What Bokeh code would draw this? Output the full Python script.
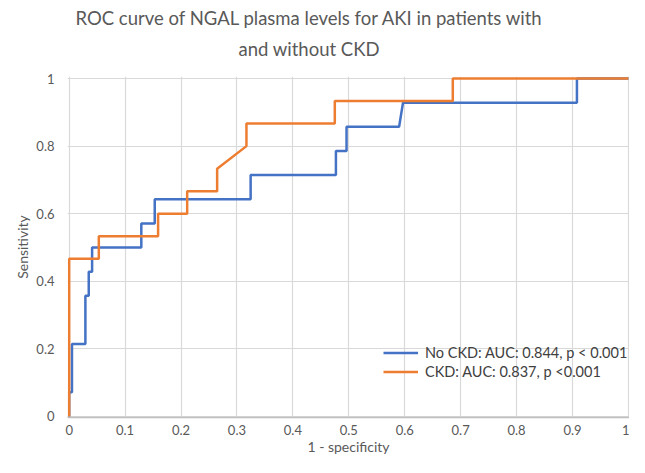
from bokeh.plotting import figure
from bokeh.models import Range1d, FixedTicker, Title, Legend, LegendItem
from bokeh.embed import file_html
from bokeh.resources import INLINE

# Data
no_ckd_fpr = [0.0, 0.0, 0.005, 0.005, 0.029, 0.029, 0.035, 0.035, 0.041, 0.041, 0.129, 0.129,
              0.153, 0.153, 0.3245, 0.3245, 0.477, 0.477, 0.496, 0.496, 0.59, 0.597, 0.908, 0.908, 1.0]
no_ckd_tpr = [0.0, 0.0714, 0.0714, 0.2143, 0.2143, 0.3571, 0.3571, 0.4286, 0.4286, 0.5, 0.5, 0.5714,
              0.5714, 0.6429, 0.6429, 0.7143, 0.7143, 0.7857, 0.7857, 0.8571, 0.8571, 0.9286, 0.9286, 1.0, 1.0]
ckd_fpr = [0.0, 0.0, 0.053, 0.053, 0.159, 0.159, 0.211, 0.211, 0.2646, 0.2646, 0.317, 0.317,
           0.475, 0.475, 0.686, 0.686, 1.0]
ckd_tpr = [0.0, 0.4667, 0.4667, 0.5333, 0.5333, 0.6, 0.6, 0.6667, 0.6667, 0.7333, 0.8, 0.8667,
           0.8667, 0.9333, 0.9333, 1.0, 1.0]
series_labels = ["No CKD: AUC: 0.844, p < 0.001", "CKD: AUC: 0.837, p <0.001"]
x_ticks = [0, 0.1, 0.2, 0.3, 0.4, 0.5, 0.6, 0.7, 0.8, 0.9, 1]
x_tick_labels = ["0", "0.1", "0.2", "0.3", "0.4", "0.5", "0.6", "0.7", "0.8", "0.9", "1"]
y_ticks = [0, 0.2, 0.4, 0.6, 0.8, 1]
y_tick_labels = ["0", "0.2", "0.4", "0.6", "0.8", "1"]
title_line1 = "ROC curve of NGAL plasma levels for AKI in patients with"
title_line2 = "and without CKD"

FONT = "Lato"
GREY = "#595959"

p = figure(width=629, height=457, output_backend="svg", toolbar_location=None,
           x_range=Range1d(-0.003, 1.002), y_range=Range1d(-0.003, 1.006))
p.min_border = 0
p.min_border_left = 0
p.min_border_right = 0
p.min_border_top = 0
p.min_border_bottom = 0
p.outline_line_color = None

# outer title line
p.title.text = title_line1
p.title.text_font = FONT
p.title.text_font_size = "18.5px"
p.title.text_font_style = "normal"
p.title.text_color = GREY
p.title.align = "left"
p.title.offset = 8
p.title.standoff = 9

# spacer between the title block and the plot area (innermost)
top_spacer = Title(text=" ", text_font_size="1px", standoff=12)
p.add_layout(top_spacer, "above")

# inner title line
t2 = Title(text=title_line2, text_font=FONT, text_font_size="18.5px", text_font_style="normal",
           text_color=GREY, align="left", offset=171, standoff=4)
p.add_layout(t2, "above")

for ax in (p.xaxis[0], p.yaxis[0]):
    ax.major_tick_line_color = None
    ax.minor_tick_line_color = None
    ax.major_tick_out = 0
    ax.major_tick_in = 0
    ax.minor_tick_out = 0
    ax.minor_tick_in = 0
    ax.major_label_text_font = FONT
    ax.major_label_text_font_size = "13px"
    ax.major_label_text_color = GREY
    ax.axis_label_text_font = FONT
    ax.axis_label_text_font_size = "14px"
    ax.axis_label_text_font_style = "normal"
    ax.axis_label_text_color = GREY

p.xaxis.ticker = FixedTicker(ticks=x_ticks)
p.xaxis.major_label_overrides = {t: l for t, l in zip(x_ticks, x_tick_labels)}
p.yaxis.ticker = FixedTicker(ticks=y_ticks)
p.yaxis.major_label_overrides = {t: l for t, l in zip(y_ticks, y_tick_labels)}
p.xaxis.axis_label = "1 - specificity"
p.yaxis.axis_label = "Sensitivity"
p.xaxis.axis_line_color = "#BFBFBF"
p.xaxis.axis_line_width = 1.5
p.yaxis.axis_line_color = None
p.xaxis.major_label_standoff = 7
p.xaxis.axis_label_standoff = 0
p.yaxis.major_label_standoff = 13
p.yaxis.axis_label_standoff = 2

# blank spacer on the far left so the y-axis label sits away from the edge
spacer = Title(text=" ", text_font_size="8px", standoff=0)
p.add_layout(spacer, "left")

p.xgrid.ticker = FixedTicker(ticks=x_ticks)
p.ygrid.ticker = FixedTicker(ticks=y_ticks)
p.grid.grid_line_color = "#D9D9D9"
p.grid.grid_line_width = 1.2

r1 = p.line(no_ckd_fpr, no_ckd_tpr, line_color="#4472C4", line_width=2.5)
r2 = p.line(ckd_fpr, ckd_tpr, line_color="#ED7D31", line_width=2.5)

legend = Legend(items=[LegendItem(label=series_labels[0], renderers=[r1]),
                       LegendItem(label=series_labels[1], renderers=[r2])],
                location=(316, 36), orientation="vertical")
legend.border_line_color = None
legend.background_fill_alpha = 0
legend.padding = 0
legend.margin = 0
legend.spacing = 0
legend.glyph_width = 35
legend.glyph_height = 19
legend.label_height = 19
legend.label_standoff = 7
legend.label_text_font = FONT
legend.label_text_font_size = "14.5px"
legend.label_text_color = "#404040"
p.add_layout(legend, "center")

open("out.html", "w").write(file_html(p, INLINE))
